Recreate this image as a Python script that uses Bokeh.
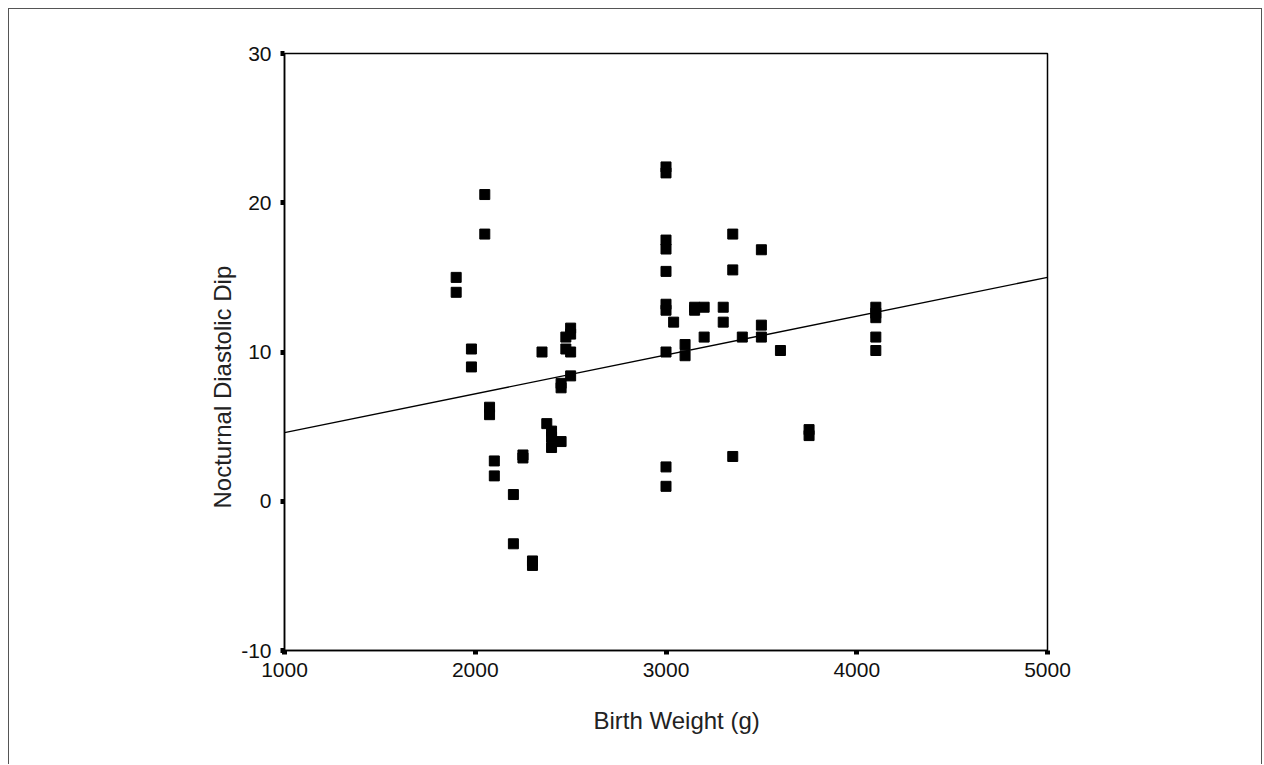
from bokeh.plotting import figure
from bokeh.models import FixedTicker, Range1d, Title
from bokeh.embed import file_html
from bokeh.resources import INLINE

# ---- data ----
birth_weight = [1900, 1900, 2050, 2050, 1980, 1980, 2075, 2075, 2100, 2100,
                2200, 2200, 2250, 2250, 2300, 2300, 2350, 2375, 2400, 2400,
                2400, 2450, 2450, 2450, 2475, 2475, 2500, 2500, 2500, 2500,
                3000, 3000, 3000, 3000, 3000, 3000, 3000, 3000, 3000, 3000,
                3040, 3100, 3100, 3150, 3150, 3200, 3200, 3300, 3300,
                3350, 3350, 3350, 3400, 3500, 3500, 3500, 3600, 3750, 3750,
                4100, 4100, 4100, 4100, 4100]
diastolic_dip = [15.0, 14.0, 20.55, 17.9, 10.2, 9.0, 6.3, 5.8, 2.7, 1.7,
                 0.45, -2.85, 3.1, 2.9, -4.0, -4.3, 10.0, 5.2, 4.7, 4.3,
                 3.6, 4.0, 7.9, 7.6, 11.0, 10.2, 11.6, 11.2, 10.0, 8.4,
                 22.4, 22.0, 17.5, 16.9, 15.4, 13.2, 12.8, 10.0, 2.3, 1.0,
                 12.0, 10.5, 9.75, 13.0, 12.8, 13.0, 11.0, 13.0, 12.0,
                 17.9, 15.5, 3.0, 11.0, 16.85, 11.8, 11.0, 10.1, 4.8, 4.4,
                 13.0, 12.6, 12.3, 11.0, 10.1]

fit_x = [1000, 5000]
fit_y = [4.6, 15.0]

x_ticks = [1000, 2000, 3000, 4000, 5000]
y_ticks = [-10, 0, 10, 20, 30]

x_label = "Birth Weight (g)"
y_label = "Nocturnal Diastolic Dip"

FONT = "Liberation Sans"

p = figure(width=1254, height=756, output_backend="svg", toolbar_location=None,
           x_range=Range1d(1000, 5000), y_range=Range1d(-10, 30),
           min_border_left=275, min_border_right=216, min_border_top=44,
           min_border_bottom=115)
p.styles = {"margin-left": "8px", "margin-top": "8px",
            "border": "1px solid #555555", "border-bottom": "none"}
p.outline_line_color = "black"
p.outline_line_width = 1.5
p.xgrid.visible = False
p.ygrid.visible = False
p.background_fill_color = "white"
p.border_fill_color = "white"

for ax, ticks in ((p.xaxis, x_ticks), (p.yaxis, y_ticks)):
    ax.ticker = FixedTicker(ticks=ticks)
    ax.major_label_overrides = {t: str(t) for t in ticks}
    ax.axis_line_color = "black"
    ax.axis_line_width = 1.5
    ax.major_tick_in = 0
    ax.major_tick_out = 4
    ax.major_tick_line_width = 5
    ax.major_tick_line_color = "black"
    ax.minor_tick_line_color = None
    ax.major_label_text_font = FONT
    ax.major_label_text_font_size = "21px"
    ax.major_label_text_color = "#111111"

p.xaxis.major_label_standoff = 8
p.yaxis.major_label_standoff = 9

p.line(fit_x, fit_y, line_color="black", line_width=1.4)
p.scatter(birth_weight, diastolic_dip, marker="square", size=10,
          fill_color="black", line_color="black")

xt = Title(text=x_label, align="left", offset=309, text_font=FONT,
           text_font_size="24px", text_font_style="normal",
           text_color="#222222", standoff=50)
yt = Title(text=y_label, align="left", offset=142, text_font=FONT,
           text_font_size="24px", text_font_style="normal",
           text_color="#222222", standoff=6)
p.add_layout(xt, "below")
p.add_layout(yt, "left")

open("out.html", "w").write(file_html(p, INLINE))
